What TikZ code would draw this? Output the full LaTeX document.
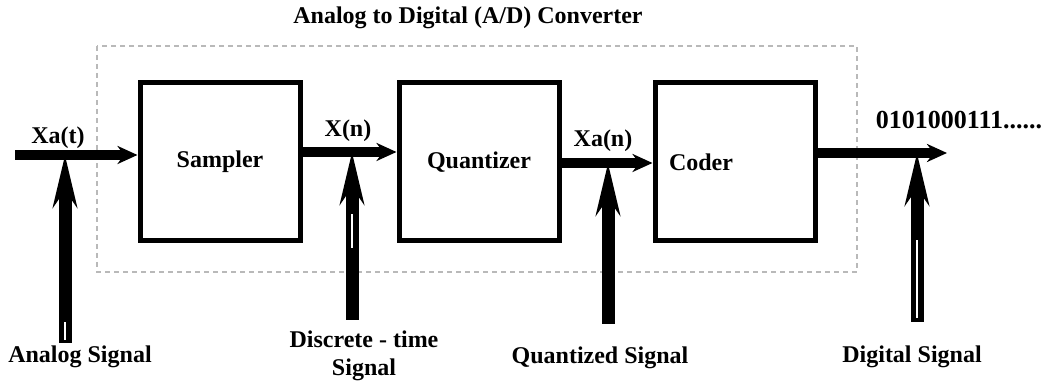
\documentclass[tikz,border=0pt]{standalone}
\usepackage{fontspec}
\setmainfont{Liberation Serif}
\usetikzlibrary{arrows.meta,positioning}

\begin{document}
\begin{tikzpicture}[x=0.5pt, y=-0.5pt, >=Stealth,
    blockbox/.style={draw, line width=2.5pt, minimum width=80pt, minimum height=79pt, inner sep=0pt, font=\fontsize{12}{14}\selectfont\bfseries},
    sigline/.style={line width=5pt, -{Stealth[length=10pt, width=9pt]}},
    sigup/.style={line width=6.5pt, -{Stealth[length=26pt, width=12pt]}},
    slit/.style={white, line width=0.8pt},
    sigtag/.style={font=\fontsize{12}{14}\selectfont\bfseries, inner sep=1pt}]
  \useasboundingbox (0,0) rectangle (1049,383);

  % A/D converter frame
  \draw[gray!55, line width=1.3pt, dash pattern=on 2.5pt off 2pt] (97,46) rectangle (857,272);
  \node[sigtag] (title) at (468,18) {Analog to Digital (A/D) Converter};

  % blocks
  \node[blockbox] (sampler) at (220,162) {Sampler};
  \node[blockbox] (quantizer) at (479,162) {Quantizer};
  \node[blockbox, label={[sigtag, xshift=-17pt]center:Coder}] (coder) at (735,162) {};

  % signal path
  \coordinate (ain) at (15,155);
  \coordinate (s1) at (302,152);
  \coordinate (q1) at (560,163);
  \coordinate (c1) at (817,153);
  \coordinate (dout) at (947,153);
  \draw[sigline] (ain) -- (ain -| sampler.west);
  \draw[sigline] (s1) -- (s1 -| quantizer.west);
  \draw[sigline] (q1) -- (q1 -| coder.west);
  \draw[sigline] (c1) -- (dout);

  % signal names
  \node[sigtag] (xat) at (58,138) {Xa(t)};
  \node[sigtag] (xn) at (348,131) {X(n)};
  \node[sigtag] (xan) at (603,141) {Xa(n)};
  \node[sigtag, font=\fontsize{13}{15}\selectfont\bfseries] (bits) at (959,120) {0101000111......};

  % pointers from the labels
  \node[sigtag] (lblA) at (80,357) {Analog Signal};
  \node[sigtag, align=center] (lblD) at (364,356) {Discrete - time\\Signal};
  \node[sigtag] (lblQ) at (600,358) {Quantized Signal};
  \node[sigtag] (lblG) at (912,357) {Digital Signal};

  \coordinate (pA) at (65,343);
  \coordinate (pD) at (352,320);
  \coordinate (pQ) at (608,324);
  \coordinate (pG) at (917,322);
  \draw[sigup] (pA) -- (pA |- ain);
  \draw[sigup] (pD) -- (pD |- s1);
  \draw[sigup] (pQ) -- (pQ |- q1);
  \draw[sigup] (pG) -- (pG |- c1);
  \draw[slit] (917,318) -- (917,240);
  \draw[slit] (65,340) -- (65,322);
  \draw[slit] (352,248) -- (352,214);
\end{tikzpicture}
\end{document}
